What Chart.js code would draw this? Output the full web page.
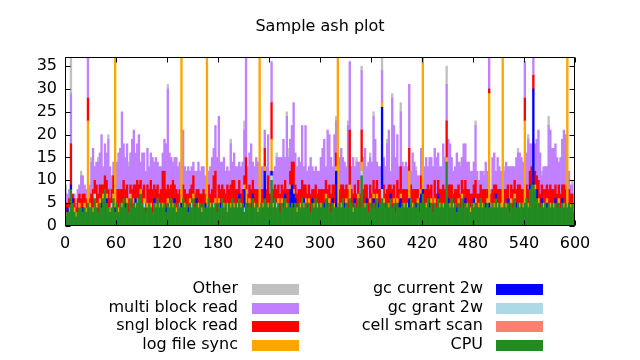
<!DOCTYPE html>
<html><head><meta charset="utf-8">
<script src="https://cdn.jsdelivr.net/npm/chart.js@4/dist/chart.umd.min.js"></script>
<style>html,body{margin:0;padding:0;background:#fff}#wrap{width:640px;height:360px}</style>
</head><body><div id="wrap"><canvas id="c" width="640" height="360"></canvas></div>
<script>
// Active sessions per 2-second sample
const cpu=[
2,3,3,8,5,3,2,3,4,4, 3,4,3,5,4,4,3,6,4,3, 5,4,6,8,5,4,3,4,6,3, 5,3,5,4,6,4,5,3,6,4, 5,4,5,6,7,5,4,3,4,5,
4,3,5,4,6,4,5,4,5,3, 5,4,6,4,5,3,5,4,4,6, 4,5,3,5,4,6,4,5,4,5, 3,5,4,4,6,4,5,4,5,3, 5,4,6,4,5,3,5,4,6,4,
5,4,6,4,5,3,5,4,5,4, 6,4,5,3,4,5,4,6,5,4, 5,10,4,6,4,5,3,5,4,6, 4,5,4,5,4,5,3,5,4,6, 4,5,4,5,3,5,4,6,4,5,
4,5,4,6,4,5,3,5,4,4, 4,5,4,6,4,5,4,6,5,3, 5,4,6,4,11,5,4,5,3,5, 4,5,4,6,4,5,6,5,4,5, 4,6,4,5,3,5,4,4,5,4,
5,4,4,6,4,5,4,5,3,5, 7,5,4,6,4,5,3,5,4,6, 4,5,4,5,14,5,4,6,4,5, 3,5,4,6,4,5,4,5,3,5, 4,5,4,4,6,4,5,4,5,4,
4,5,4,6,4,5,4,4,5,4, 5,3,5,4,6,4,5,4,5,4, 5,6,4,8,9,9,8,6,5,4, 5,4,5,4,5,4,5,4,5,4, 5,4,5,4,5,4,5,4,5,3];
const cellSmartScan=[
0,0,0,0,0,0,0,0,0,0, 0,0,0,0,0,0,0,0,0,0, 0,0,0,0,0,0,0,0,0,0, 0,0,0,0,0,0,0,0,0,0, 0,1,0,0,0,0,0,0,0,0,
0,0,0,0,0,0,0,0,0,0, 0,0,0,0,0,0,0,0,0,0, 0,0,0,0,0,0,0,0,0,0, 0,0,0,0,0,0,0,0,0,0, 0,0,0,0,0,1,0,0,0,0,
0,0,0,0,0,0,0,0,0,0, 0,0,0,0,0,0,0,0,0,0, 0,0,0,0,0,0,0,0,0,0, 0,0,0,0,0,0,0,0,0,0, 1,0,0,0,0,0,0,0,0,0,
0,0,0,0,0,0,0,0,0,0, 0,0,0,0,0,0,0,0,0,0, 0,0,0,0,0,0,0,0,0,0, 0,0,0,0,0,0,0,0,0,0, 0,0,0,0,0,0,0,0,0,0,
0,0,0,0,0,0,0,0,0,0, 0,0,0,0,0,0,0,0,0,0, 0,0,0,0,0,0,0,0,0,0, 0,0,0,0,0,0,0,0,0,0, 1,0,0,0,0,0,0,0,0,0,
0,0,0,0,0,0,0,0,0,0, 0,0,0,0,0,0,0,0,0,0, 0,0,0,0,0,0,0,0,0,0, 0,0,0,0,0,0,0,0,0,0, 0,0,0,0,0,0,0,0,0,0];
const gcGrant2w=[
0,0,0,0,0,0,0,0,0,0, 0,0,0,0,0,0,0,1,0,0, 0,0,0,0,0,0,0,1,0,0, 0,0,0,0,0,0,0,0,0,0, 0,0,0,0,0,0,1,0,0,0,
0,0,0,0,0,0,0,0,0,0, 0,0,0,0,0,0,0,0,0,0, 0,0,0,0,1,0,0,0,0,0, 0,0,0,0,0,0,0,1,0,0, 0,0,0,0,0,0,0,0,0,0,
0,0,0,0,0,1,0,0,0,0, 0,0,0,0,0,0,0,0,0,0, 0,1,0,0,1,0,0,0,0,0, 0,0,0,0,0,0,0,0,0,0, 0,0,0,0,0,0,0,0,0,0,
0,0,0,0,0,0,0,0,0,0, 0,0,0,0,0,0,0,0,0,0, 0,0,0,0,1,0,0,0,0,0, 0,0,0,0,0,0,2,0,0,0, 0,0,0,0,0,0,0,0,0,0,
0,0,0,0,0,0,0,0,0,0, 0,0,0,0,0,0,0,0,0,0, 0,0,0,0,0,0,0,0,0,0, 0,0,0,0,0,0,0,0,0,0, 0,0,0,0,0,0,0,0,0,0,
0,0,0,0,0,0,0,0,0,0, 0,0,0,0,0,0,0,0,0,0, 0,0,0,0,0,0,0,0,0,0, 0,0,0,0,0,0,0,0,0,0, 0,0,0,0,0,0,0,0,0,0];
const gcCurrent2w=[
0,1,0,1,1,0,0,0,0,0, 1,0,0,0,0,0,0,0,0,0, 0,1,0,0,1,0,0,0,0,1, 0,0,0,0,0,1,0,0,0,0, 0,1,0,0,0,0,0,0,0,0,
0,0,1,0,0,0,0,0,0,1, 0,0,0,0,1,0,0,0,1,0, 0,0,1,0,0,0,0,1,0,0, 0,0,1,0,0,0,0,0,0,0, 0,1,0,0,0,0,0,0,0,0,
0,0,1,0,0,4,0,0,0,0, 1,0,0,0,0,0,0,6,0,0, 0,1,0,0,0,0,0,0,0,1, 0,0,4,4,3,1,0,0,0,0, 1,0,0,0,0,1,0,0,0,0,
0,0,1,0,0,0,0,1,0,8, 0,0,0,0,1,0,0,0,0,0, 1,0,0,0,0,0,0,1,0,0, 0,1,0,0,1,0,18,0,0,0, 0,1,0,0,0,0,1,2,0,0,
0,0,2,0,0,0,1,0,0,2, 1,0,0,0,1,0,0,0,0,1, 0,0,0,0,0,1,0,0,0,0, 1,0,0,0,0,1,0,0,0,0, 1,0,0,0,0,0,0,1,0,1,
0,0,0,1,0,0,0,0,0,0, 1,0,0,0,0,1,0,0,0,0, 0,0,0,1,0,21,0,2,0,0, 1,0,0,1,0,0,0,0,1,0, 0,0,1,0,0,0,0,0,0,0];
const logFileSync=[
1,0,1,0,0,1,1,0,1,0, 0,1,1,18,1,0,1,0,1,0, 1,0,1,0,1,0,1,0,1,36, 0,1,0,1,0,0,1,0,1,0, 1,0,1,0,1,0,1,0,1,0,
1,0,0,1,0,1,0,1,0,0, 1,1,0,1,0,1,0,1,35,0, 1,0,0,1,0,1,0,0,1,0, 1,0,0,36,0,1,0,0,1,0, 1,0,0,1,0,1,0,1,0,1,
0,1,0,1,0,1,3,0,1,0, 0,1,0,1,36,0,1,1,0,1, 0,7,1,0,0,1,0,1,0,0, 1,0,1,0,1,0,1,0,1,0, 0,1,0,1,0,0,1,0,1,0,
1,0,0,1,0,1,0,0,1,1, 36,0,1,0,0,1,0,3,0,1, 0,0,1,0,2,0,1,0,0,1, 0,1,0,1,0,0,1,1,0,0, 1,0,0,1,0,1,0,1,0,1,
0,1,6,0,1,0,0,1,0,1, 32,0,1,0,0,1,0,1,0,0, 1,0,1,0,1,0,1,0,1,0, 0,1,0,1,0,0,1,0,1,0, 0,1,0,1,0,1,0,0,1,24,
1,0,1,0,1,0,1,36,0,1, 0,0,1,0,1,0,0,1,0,1, 18,0,1,0,0,0,1,0,1,0, 0,1,0,1,0,1,0,1,0,0, 1,0,0,1,0,36,0,1,0,2];
const snglBlockRead=[
2,1,2,9,1,2,1,3,2,2, 3,2,2,5,1,3,4,3,4,4, 3,4,2,3,3,4,2,3,4,0, 3,4,3,3,4,3,3,3,2,4, 3,3,4,3,2,3,3,2,4,3,
5,5,3,3,3,2,3,7,7,4, 3,3,3,5,3,4,2,3,0,3, 3,2,3,2,4,4,3,2,3,2, 3,3,2,0,3,2,3,6,6,3, 3,3,3,3,2,4,3,4,4,5,
3,3,3,2,3,2,7,3,3,4, 3,3,3,4,0,3,3,4,3,6, 2,8,3,3,3,3,4,3,4,3, 3,3,3,5,6,3,3,3,3,4, 3,3,3,3,4,2,3,3,2,3,
3,3,3,3,4,3,4,3,4,3, 0,3,4,3,3,3,4,12,3,3, 3,3,3,3,7,3,4,3,3,3, 3,3,4,3,3,3,0,3,3,3, 4,2,4,3,3,4,3,6,3,3,
3,3,5,3,3,3,3,2,3,3, 0,3,3,3,3,3,3,4,3,3, 3,3,4,3,8,3,4,3,2,3, 4,3,3,3,4,4,3,3,3,2, 3,4,3,2,3,3,3,3,2,1,
2,3,4,2,3,3,3,0,3,3, 3,3,3,4,3,3,4,4,3,3, 5,3,3,3,4,3,3,3,4,3, 3,3,3,3,3,4,3,3,3,3, 3,3,3,4,3,0,3,2,2,0];
const multiBlockRead=[
2,2,2,11,0,1,1,2,2,5, 4,2,2,12,3,7,9,3,5,7, 7,11,4,7,6,11,7,3,3,0, 6,8,9,17,8,7,9,7,7,11, 12,7,8,11,4,8,7,7,8,5,
6,7,5,7,5,6,5,4,7,10, 21,8,6,4,6,7,6,6,0,12, 5,5,6,4,4,3,5,4,6,5, 6,5,4,0,3,6,7,6,10,9, 15,6,5,7,5,4,4,9,4,6,
5,5,4,6,6,10,25,6,7,10, 4,5,7,6,0,5,5,4,5,9, 5,9,4,4,7,6,8,6,11,5, 16,7,7,8,13,7,6,7,6,12, 4,13,5,4,8,5,4,4,5,4,
7,9,11,3,13,11,8,4,11,7, 0,7,8,6,6,4,14,15,5,8, 4,7,4,7,13,7,8,4,8,6, 7,14,11,4,5,5,7,6,6,10, 12,3,20,13,9,10,5,12,6,5,
6,5,14,3,8,6,4,3,5,6, 0,5,7,4,7,6,7,7,8,6, 5,5,9,7,8,10,9,6,5,5, 8,5,6,5,10,8,6,6,5,5, 5,12,5,3,3,4,3,6,4,10,
1,7,7,3,7,5,4,0,4,6, 4,7,4,5,3,7,7,7,7,6, 8,7,11,6,5,7,6,8,11,9, 2,5,5,4,14,12,9,9,9,8, 5,8,10,12,12,0,4,2,2,0];
const other=[
2,0,0,11,0,0,0,0,0,1, 0,0,0,0,0,1,0,0,0,1, 0,0,0,0,0,1,0,0,0,0, 0,0,0,0,0,0,0,1,0,0, 0,0,0,0,0,0,0,0,0,0,
0,0,0,0,0,0,0,0,0,0, 1,0,0,0,0,0,0,0,0,0, 0,0,0,0,0,0,0,0,0,0, 0,0,0,0,0,0,0,0,0,0, 0,0,0,0,0,0,0,1,0,0,
0,0,0,0,0,2,0,0,0,0, 0,0,0,0,0,0,0,0,0,0, 0,0,0,0,1,0,0,0,0,0, 1,2,0,0,0,0,0,0,0,0, 0,0,0,0,0,0,0,0,0,0,
0,0,0,0,0,0,0,0,0,1, 0,0,0,0,0,0,1,0,0,0, 0,1,0,0,1,0,0,0,0,1, 0,1,0,0,0,0,6,0,0,1, 0,0,1,0,0,0,0,2,0,0,
0,0,0,0,0,0,1,0,0,0, 0,0,0,0,0,0,0,0,0,0, 0,0,0,0,4,0,0,0,0,0, 0,0,1,0,0,0,0,0,0,0, 0,1,0,0,0,0,1,0,0,0,
0,0,0,0,0,0,0,0,1,0, 0,0,0,0,0,0,1,0,0,0, 0,0,1,0,0,0,0,0,0,0, 1,0,0,0,2,0,0,0,0,0, 0,0,0,0,0,0,0,0,1,0];

// sample centres in seconds (2 s per sample)
const sampleSeconds = cpu.map((_, i) => 2 * i + 1);
const xTickValues = [0,60,120,180,240,300,360,420,480,540,600];
const yTickValues = [0,5,10,15,20,25,30,35];

const series = [
  {label:'CPU', data:cpu, color:'#228b22'},
  {label:'cell smart scan', data:cellSmartScan, color:'#fa8072'},
  {label:'gc grant 2w', data:gcGrant2w, color:'#add8e6'},
  {label:'gc current 2w', data:gcCurrent2w, color:'#0000ff'},
  {label:'log file sync', data:logFileSync, color:'#ffa500'},
  {label:'sngl block read', data:snglBlockRead, color:'#ff0000'},
  {label:'multi block read', data:multiBlockRead, color:'#c080ff'},
  {label:'Other', data:other, color:'#c0c0c0'}
];

const FONT = 'DejaVu Sans';

const framePlugin = {
  id: 'frame',
  afterDatasetsDraw(chart) {
    const {ctx, chartArea: a, scales: {x, y}} = chart;
    ctx.save();
    ctx.strokeStyle = '#000';
    ctx.lineWidth = 1;
    const L = Math.round(a.left) + 0.5, R = Math.round(a.right) - 0.5;
    const T = Math.round(a.top) + 0.5, B = Math.round(a.bottom) - 0.5;
    ctx.beginPath();
    ctx.rect(L, T, R - L, B - T);
    const tl = 5;
    xTickValues.forEach(v => {
      const px = Math.round(x.getPixelForValue(v)) + 0.5;
      ctx.moveTo(px, B); ctx.lineTo(px, B - tl);
      ctx.moveTo(px, T); ctx.lineTo(px, T + tl);
    });
    yTickValues.forEach(v => {
      const py = Math.round(y.getPixelForValue(v)) + 0.5;
      ctx.moveTo(L, py); ctx.lineTo(L + tl, py);
      ctx.moveTo(R, py); ctx.lineTo(R - tl, py);
    });
    ctx.stroke();
    ctx.restore();
  },
  afterDraw(chart) {
    const ctx = chart.ctx;
    const items = chart.data.datasets.slice().reverse();
    ctx.save();
    ctx.font = '16px "' + FONT + '"';
    ctx.textAlign = 'right';
    ctx.textBaseline = 'middle';
    const rows = [289, 308, 326, 345];
    const cols = [{tx: 238, sx: 252}, {tx: 483, sx: 496}];
    items.forEach((ds, i) => {
      const c = cols[Math.floor(i / 4)], ry = rows[i % 4];
      ctx.fillStyle = '#000';
      ctx.fillText(ds.label, c.tx, ry);
      ctx.fillStyle = ds.backgroundColor;
      ctx.fillRect(c.sx, ry - 5, 47, 11);
    });
    ctx.restore();
  }
};

new Chart(document.getElementById('c'), {
  type: 'bar',
  data: {
    labels: sampleSeconds,
    datasets: series.map(s => ({
      label: s.label,
      data: s.data.map(v => v === 0 ? null : v),
      backgroundColor: s.color,
      borderWidth: 0,
      barPercentage: 1,
      categoryPercentage: 1
    }))
  },
  options: {
    responsive: false,
    animation: false,
    layout: {padding: {left: 0, right: 0, top: 0, bottom: 104}},
    plugins: {
      legend: {display: false},
      tooltip: {enabled: false},
      title: {display: true, text: 'Sample ash plot', color: '#000',
        font: {family: FONT, size: 16, weight: 'normal'}, padding: {top: 17.5, bottom: 20.3}}
    },
    scales: {
      x: {
        type: 'linear', min: 0, max: 600, stacked: true, offset: false,
        grid: {display: false, drawTicks: false}, border: {display: false},
        ticks: {color: '#000', font: {family: FONT, size: 16}, padding: 8, maxRotation: 0, autoSkip: false},
        afterBuildTicks: s => { s.ticks = xTickValues.map(v => ({value: v})); },
        afterFit: s => { s.height = 30; }
      },
      y: {
        type: 'linear', min: 0, max: 37, stacked: true,
        grid: {display: false, drawTicks: false}, border: {display: false},
        ticks: {color: '#000', font: {family: FONT, size: 16}, padding: 8},
        afterBuildTicks: s => { s.ticks = yTickValues.map(v => ({value: v})); },
        afterFit: s => { s.width = 65; }
      },
      yRight: {
        type: 'linear', position: 'right', min: 0, max: 37,
        grid: {display: false, drawTicks: false}, border: {display: false},
        ticks: {display: false},
        afterFit: s => { s.width = 65; }
      }
    }
  },
  plugins: [framePlugin]
});
</script>
</body></html>
